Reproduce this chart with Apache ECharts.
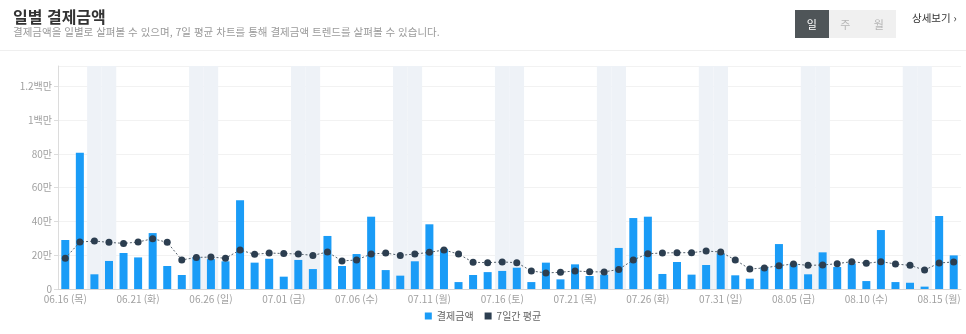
<!DOCTYPE html>
<html lang="ko">
<head>
<meta charset="utf-8">
<title>일별 결제금액</title>
<script src="https://cdn.jsdelivr.net/npm/echarts@6/dist/echarts.min.js"></script>
<style>
  html, body { margin: 0; padding: 0; background: #fff; }
  body { width: 966px; height: 334px; position: relative; overflow: hidden;
         font-family: "Noto Sans CJK KR", "Noto Sans", sans-serif; }
  #chart { position: absolute; left: 0; top: 0; width: 966px; height: 334px; }
  .head { position: absolute; left: 0; top: 0; width: 966px; height: 50px;
          border-bottom: 1px solid #efefef; z-index: 2; }
  .title { position: absolute; left: 13px; top: 4px; font-size: 16px; font-weight: bold; color: #333; }
  .desc { position: absolute; left: 13px; top: 24px; font-size: 10.5px; color: #9a9a9a; }
  .tabs { position: absolute; left: 795px; top: 10px; height: 28px; display: flex; }
  .tabs span { width: 33.5px; height: 28px; line-height: 28px; text-align: center;
               font-size: 11px; background: #f0f0f0; color: #b5b5b5; }
  .tabs span.on { background: #4f5558; color: #fff; }
  .more { position: absolute; left: 912px; top: 10px; font-size: 10.5px; color: #333; }
</style>
</head>
<body>
<div class="head">
  <div class="title">일별 결제금액</div>
  <div class="desc">결제금액을 일별로 살펴볼 수 있으며, 7일 평균 차트를 통해 결제금액 트렌드를 살펴볼 수 있습니다.</div>
  <div class="tabs"><span class="on">일</span><span>주</span><span>월</span></div>
  <div class="more">상세보기 ›</div>
</div>
<div id="chart"></div>
<script>
// Days shown on the x axis (2022.06.16 – 08.16), with weekday
const days = [
  '06.16 (목)', '06.17 (금)', '06.18 (토)', '06.19 (일)', '06.20 (월)', '06.21 (화)', '06.22 (수)',
  '06.23 (목)', '06.24 (금)', '06.25 (토)', '06.26 (일)', '06.27 (월)', '06.28 (화)', '06.29 (수)',
  '06.30 (목)', '07.01 (금)', '07.02 (토)', '07.03 (일)', '07.04 (월)', '07.05 (화)', '07.06 (수)',
  '07.07 (목)', '07.08 (금)', '07.09 (토)', '07.10 (일)', '07.11 (월)', '07.12 (화)', '07.13 (수)',
  '07.14 (목)', '07.15 (금)', '07.16 (토)', '07.17 (일)', '07.18 (월)', '07.19 (화)', '07.20 (수)',
  '07.21 (목)', '07.22 (금)', '07.23 (토)', '07.24 (일)', '07.25 (월)', '07.26 (화)', '07.27 (수)',
  '07.28 (목)', '07.29 (금)', '07.30 (토)', '07.31 (일)', '08.01 (월)', '08.02 (화)', '08.03 (수)',
  '08.04 (목)', '08.05 (금)', '08.06 (토)', '08.07 (일)', '08.08 (월)', '08.09 (화)', '08.10 (수)',
  '08.11 (목)', '08.12 (금)', '08.13 (토)', '08.14 (일)', '08.15 (월)', '08.16 (화)'
];

// Daily payment amount (원)
const payments = [
  290000, 806000, 87000, 166000, 213000, 187000, 331000, 136000, 83000, 189000,
  177000, 164000, 525000, 156000, 179000, 73000, 172000, 118000, 314000, 136000,
  207000, 428000, 112000, 79000, 164000, 383000, 237000, 41000, 83000, 100000,
  107000, 126000, 41000, 156000, 57000, 146000, 77000, 85000, 243000, 420000,
  428000, 89000, 160000, 85000, 142000, 211000, 81000, 61000, 130000, 266000,
  150000, 87000, 217000, 130000, 152000, 47000, 349000, 41000, 37000, 14000,
  432000, 199000
];

// 7-day moving average (원)
const weeklyAvg = [
  182000, 278000, 284000, 276000, 270000, 278000, 298000, 276000, 172000, 187000,
  189000, 182000, 231000, 205000, 213000, 210000, 207000, 199000, 219000, 166000,
  172000, 207000, 213000, 199000, 207000, 217000, 231000, 207000, 158000, 156000,
  160000, 156000, 107000, 95000, 99000, 107000, 102000, 101000, 116000, 172000,
  209000, 213000, 215000, 215000, 225000, 219000, 172000, 118000, 125000, 138000,
  148000, 140000, 142000, 150000, 162000, 152000, 162000, 148000, 140000, 112000,
  154000, 160000
];

const yMax = 1320000;
const yStep = 200000;

// weekend columns get a full-height background band
const weekendBand = days.map(d => (d.includes('(토)') || d.includes('(일)')) ? yMax : null);

function wonLabel(v) {
  if (v === 0) return '0';
  if (v >= 1000000) return (v / 1000000) + '백만';
  return (v / 10000) + '만';
}

const chart = echarts.init(document.getElementById('chart'), null, { renderer: 'canvas' });
chart.setOption({
  animation: false,
  textStyle: { fontFamily: '"Noto Sans CJK KR", "Noto Sans", sans-serif' },
  grid: { left: 58, right: 5, top: 66, bottom: 45 },
  legend: {
    bottom: 8,
    left: 'center',
    itemWidth: 7,
    itemHeight: 7,
    itemGap: 11,
    textStyle: { fontSize: 10, color: '#666' },
    data: [
      { name: '결제금액', icon: 'rect' },
      { name: '7일간 평균', icon: 'rect' }
    ]
  },
  xAxis: [
    {
      type: 'category',
      data: days,
      axisLine: { lineStyle: { color: '#d5d5d5' } },
      axisTick: {
        alignWithLabel: true,
        length: 4,
        lineStyle: { color: '#d5d5d5' },
        interval: i => i % 5 === 3
      },
      axisLabel: { interval: 4, fontSize: 10, color: '#a0a0a0', margin: 5 }
    },
    {
      type: 'category',
      data: days,
      show: false
    }
  ],
  yAxis: {
    type: 'value',
    min: 0,
    max: yMax,
    interval: yStep,
    axisLine: { show: true, lineStyle: { color: '#dcdcdc' } },
    axisTick: { show: true, length: 4, lineStyle: { color: '#dcdcdc' } },
    axisLabel: { fontSize: 10, color: '#a0a0a0', margin: 6, showMaxLabel: false, formatter: wonLabel },
    splitLine: { lineStyle: { color: '#f2f2f2' } }
  },
  series: [
    {
      name: 'weekend',
      type: 'bar',
      xAxisIndex: 1,
      data: weekendBand,
      barWidth: '100%',
      silent: true,
      itemStyle: { color: '#eef2f7' },
      z: 0
    },
    {
      name: '결제금액',
      type: 'bar',
      data: payments,
      barWidth: 8,
      itemStyle: { color: '#1a9cf7' },
      z: 2
    },
    {
      name: '7일간 평균',
      type: 'line',
      data: weeklyAvg,
      symbol: 'circle',
      symbolSize: 7,
      lineStyle: { color: '#55616c', width: 1, type: [2, 2] },
      itemStyle: { color: '#2c3e50' },
      z: 3
    }
  ]
});
</script>
</body>
</html>
